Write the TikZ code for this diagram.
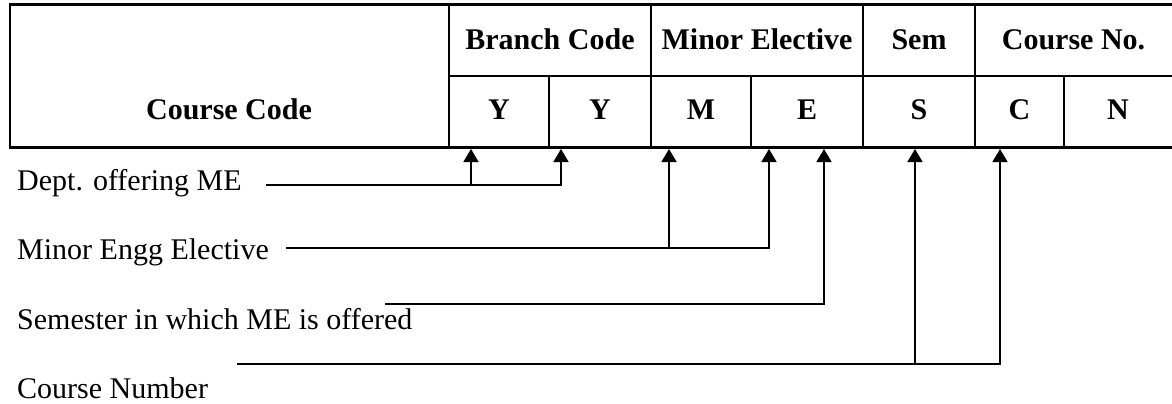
\documentclass[tikz,border=0pt]{standalone}
\usepackage{fontspec}
\setmainfont{Liberation Serif}
\usetikzlibrary{arrows.meta}
\begin{document}
\begin{tikzpicture}[x=1pt,y=-1pt,
  lbl/.style={anchor=base west,inner sep=0pt,font=\fontsize{30}{36}\selectfont},
  hd/.style={anchor=base,inner sep=0pt,font=\fontsize{30}{36}\selectfont\bfseries},
  thickrule/.style={line width=3pt},
  thinrule/.style={line width=1.1pt},
  conn/.style={line width=1.7pt,line join=miter,-{Triangle[length=13pt,width=15pt]}},
  wire/.style={line width=1.7pt}]
\useasboundingbox (0,0) rectangle (1172,404);
% table rules
\draw[thickrule] (8.5,5) -- (1172,5);
\draw[thickrule] (8.5,147) -- (1172,147);
\draw[line width=2pt] (9.5,4) -- (9.5,148);
\draw[line width=1.5pt] (449,76) -- (1172,76);
\foreach \x in {449,651,863,975} \draw[thinrule] (\x,5) -- (\x,147);
\foreach \x in {549,751,1064} \draw[thinrule] (\x,76) -- (\x,147);
% header texts
\node[hd] (bc) at (550,49) {Branch Code};
\node[hd] (me) at (757,49) {Minor Elective};
\node[hd] (sem) at (919,49) {Sem};
\node[hd] (cno) at (1073.5,49) {Course No.};
\node[hd] (cc) at (229,119) {Course Code};
\node[hd] (y1) at (499,119) {Y};
\node[hd] (y2) at (600,119) {Y};
\node[hd] (m) at (701,119) {M};
\node[hd] (e) at (807,119) {E};
\node[hd] (s) at (919,119) {S};
\node[hd] (c) at (1019.5,119) {C};
\node[hd] (n) at (1118,119) {N};
% arrow targets on table bottom
\coordinate (t1) at (471,149);
\coordinate (t2) at (561,149);
\coordinate (t3) at (669,149);
\coordinate (t4) at (769,149);
\coordinate (t5) at (824,149);
\coordinate (t6) at (915,149);
\coordinate (t7) at (1000,149);
% labels
\node[lbl] (l1) at (17,190) {Dept. offering ME};
\node[lbl] (l2) at (17,259) {Minor Engg Elective};
\node[lbl] (l3) at (17,329) {Semester in which ME is offered};
\node[lbl] (l4) at (17,398) {Course Number};
% line starts
\coordinate (s1) at (266,185);
\coordinate (s2) at (286,248);
\coordinate (s3) at (385,304);
\coordinate (s4) at (237,364);
% connectors
\draw[conn] (s1) -- (t2 |- s1) -- (t2);
\draw[conn] (t1 |- s1) -- (t1);
\draw[conn] (s2) -- (t4 |- s2) -- (t4);
\draw[conn] (t3 |- s2) -- (t3);
\draw[conn] (s3) -- (t5 |- s3) -- (t5);
\draw[conn] (s4) -- (t7 |- s4) -- (t7);
\draw[conn] (t6 |- s4) -- (t6);
\end{tikzpicture}
\end{document}
